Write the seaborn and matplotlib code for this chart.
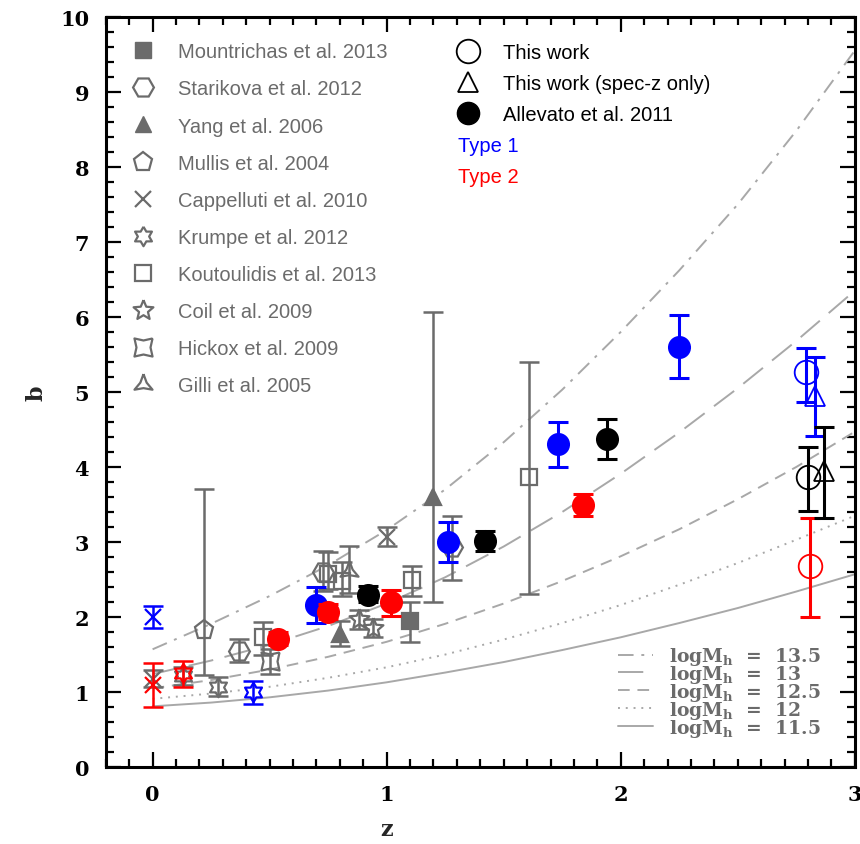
import numpy as np
import matplotlib
matplotlib.use("Agg")
import matplotlib.pyplot as plt
import seaborn as sns
from matplotlib.lines import Line2D
from matplotlib.ticker import MultipleLocator

# --- model curves b(z) for several halo masses ---
z_model = [0.0, 0.25, 0.5, 0.75, 1.0, 1.25, 1.5, 1.75, 2.0, 2.25, 2.5, 2.75, 3.0]
b_135 = [1.57, 1.91, 2.28, 2.69, 3.16, 3.70, 4.33, 5.03, 5.80, 6.62, 7.50, 8.48, 9.55]
b_130 = [1.24, 1.42, 1.63, 1.88, 2.18, 2.53, 2.94, 3.40, 3.91, 4.46, 5.05, 5.68, 6.35]
b_125 = [1.05, 1.16, 1.30, 1.47, 1.67, 1.91, 2.18, 2.48, 2.81, 3.17, 3.57, 4.00, 4.47]
b_120 = [0.91, 0.98, 1.07, 1.19, 1.33, 1.50, 1.70, 1.92, 2.16, 2.43, 2.72, 3.03, 3.35]
b_115 = [0.81, 0.86, 0.93, 1.02, 1.13, 1.26, 1.40, 1.56, 1.73, 1.92, 2.12, 2.34, 2.57]
model_labels = ["13.5", "13", "12.5", "12", "11.5"]

# --- this work (open circles): blue = type 1, black = all, red = type 2 ---
tw_z = [2.79, 2.80, 2.81]
tw_b = [5.26, 3.87, 2.68]
tw_lo = [0.39, 0.46, 0.68]
tw_hi = [0.33, 0.40, 0.64]
# spec-z only (open triangles): blue, black
tws_z = [2.83, 2.87]
tws_b = [4.95, 3.95]
tws_lo = [0.54, 0.63]
tws_hi = [0.52, 0.58]

# --- Allevato et al. 2011 (filled circles) ---
al1_z = [0.70, 1.26, 1.73, 2.25]
al1_b = [2.16, 3.00, 4.31, 5.60]
al1_lo = [0.24, 0.27, 0.31, 0.41]
al1_hi = [0.24, 0.27, 0.29, 0.43]
al2_z = [0.535, 0.75, 1.02, 1.84]
al2_b = [1.71, 2.07, 2.20, 3.49]
al2_lo = [0.08, 0.10, 0.19, 0.14]
al2_hi = [0.09, 0.10, 0.16, 0.15]
alall_z = [0.92, 1.42, 1.94]
alall_b = [2.30, 3.01, 4.37]
alall_lo = [0.10, 0.13, 0.26]
alall_hi = [0.11, 0.14, 0.27]

# --- literature (gray unless noted) ---
mou_z, mou_b, mou_lo, mou_hi = [1.10], [1.95], [0.28], [0.25]
sta_z, sta_b = [0.37, 0.73, 1.28], [1.55, 2.60, 2.93]
sta_lo, sta_hi = [0.15, 0.25, 0.43], [0.16, 0.28, 0.42]
yan_z, yan_b = [0.80, 1.20], [1.78, 3.60]
yan_lo, yan_hi = [0.17, 1.40], [0.17, 2.47]
mul_z, mul_b, mul_lo, mul_hi = [0.22], [1.83], [0.60], [1.87]
cap_z, cap_b, cap_lo, cap_hi = [0.0, 1.0], [1.17, 3.07], [0.10, 0.13], [0.12, 0.13]
cap1_z, cap1_b, cap1_lo, cap1_hi = [0.0], [2.00], [0.15], [0.15]
cap2_z, cap2_b, cap2_lo, cap2_hi = [0.0], [1.10], [0.30], [0.29]
kru_z, kru_b, kru_lo, kru_hi = [0.13, 0.28], [1.22, 1.07], [0.12, 0.12], [0.12, 0.13]
kru1_z, kru1_b, kru1_lo, kru1_hi = [0.43], [1.00], [0.16], [0.15]
kru2_z, kru2_b, kru2_lo, kru2_hi = [0.13], [1.25], [0.18], [0.16]
kou_z = [0.47, 0.75, 0.81, 1.11, 1.61]
kou_b = [1.73, 2.57, 2.48, 2.50, 3.87]
kou_lo = [0.23, 0.20, 0.20, 0.22, 1.56]
kou_hi = [0.20, 0.30, 0.25, 0.18, 1.53]
coi_z, coi_b, coi_lo, coi_hi = [0.88, 0.94], [1.97, 1.86], [0.13, 0.12], [0.13, 0.12]
hic_z, hic_b, hic_lo, hic_hi = [0.50], [1.42], [0.18], [0.15]
gil_z, gil_b, gil_lo, gil_hi = [0.84], [2.62], [0.30], [0.32]

lit_labels = ["Mountrichas et al. 2013", "Starikova et al. 2012", "Yang et al. 2006",
              "Mullis et al. 2004", "Cappelluti et al. 2010", "Krumpe et al. 2012",
              "Koutoulidis et al. 2013", "Coil et al. 2009", "Hickox et al. 2009",
              "Gilli et al. 2005"]

GRAY = "#6b6b6b"
CURVE = "#a8a8a8"
BLUE = "#0000ff"
RED = "#ff0000"

sns.set_theme(style="ticks")
plt.rcParams["font.family"] = ["DejaVu Serif"]
plt.rcParams["mathtext.default"] = "regular"

fig, ax = plt.subplots(figsize=(8.6, 8.45), dpi=100)
fig.subplots_adjust(left=0.123, right=0.994, bottom=0.091, top=0.979)

# model curves
styles = [(0, (8, 4, 1.5, 4)), (0, (13, 6)), (0, (6, 4)), (0, (1, 3)), "-"]
for bvals, ls in zip([b_135, b_130, b_125, b_120, b_115], styles):
    sns.lineplot(x=z_model, y=bvals, ax=ax, color=CURVE, lw=1.4, linestyle=ls,
                 legend=False, zorder=1)


def star(n, inner, rot=90):
    # closed outline of an n-pointed star used as marker shape
    k = np.arange(2 * n + 1)
    ang = np.deg2rad(rot) + k * np.pi / n
    r = np.where(k % 2 == 0, 1.0, inner)
    return list(zip(r * np.cos(ang), r * np.sin(ang)))


star6 = star(6, 0.58)
star5 = star(5, 0.45)
star4 = star(4, 0.55, rot=45)
star3 = star(3, 0.35)


def eb(z, b, lo, hi, marker, color, ms=12, filled=False, mew=1.6, zorder=3, lw=1.8):
    ax.errorbar(z, b, yerr=[lo, hi], fmt="none", ecolor=color,
                elinewidth=lw, capsize=7.5, capthick=lw, zorder=zorder)
    ax.plot(z, b, ls="none", marker=marker, color=color, ms=ms,
            mfc=color if filled else "none", mec=color, mew=mew, zorder=zorder)


# literature
eb(mul_z, mul_b, mul_lo, mul_hi, "p", GRAY, ms=14)
eb(sta_z, sta_b, sta_lo, sta_hi, "H", GRAY, ms=15)
eb(kou_z, kou_b, kou_lo, kou_hi, "s", GRAY, ms=11)
eb(yan_z, yan_b, yan_lo, yan_hi, "^", GRAY, ms=12, filled=True)
eb(mou_z, mou_b, mou_lo, mou_hi, "s", GRAY, ms=12, filled=True)
eb(cap_z, cap_b, cap_lo, cap_hi, "x", GRAY, ms=11)
eb(cap1_z, cap1_b, cap1_lo, cap1_hi, "x", BLUE, ms=11)
eb(cap2_z, cap2_b, cap2_lo, cap2_hi, "x", RED, ms=11)
eb(kru_z, kru_b, kru_lo, kru_hi, star6, GRAY, ms=14)
eb(kru1_z, kru1_b, kru1_lo, kru1_hi, star6, BLUE, ms=14)
eb(kru2_z, kru2_b, kru2_lo, kru2_hi, star6, RED, ms=14)
eb(coi_z, coi_b, coi_lo, coi_hi, star5, GRAY, ms=15)
eb(hic_z, hic_b, hic_lo, hic_hi, star4, GRAY, ms=13)
eb(gil_z, gil_b, gil_lo, gil_hi, star3, GRAY, ms=15)

# Allevato et al. 2011
eb(al1_z, al1_b, al1_lo, al1_hi, "o", BLUE, ms=15, filled=True, zorder=5, lw=2.2)
eb(al2_z, al2_b, al2_lo, al2_hi, "o", RED, ms=15, filled=True, zorder=5, lw=2.2)
eb(alall_z, alall_b, alall_lo, alall_hi, "o", "black", ms=15, filled=True, zorder=5, lw=2.2)

# this work
for i, c in enumerate([BLUE, "black", RED]):
    eb([tw_z[i]], [tw_b[i]], [tw_lo[i]], [tw_hi[i]], "o", c, ms=17, mew=1.3, zorder=6, lw=2.2)
for i, c in enumerate([BLUE, "black"]):
    eb([tws_z[i]], [tws_b[i]], [tws_lo[i]], [tws_hi[i]], "^", c, ms=14, mew=1.3, zorder=6, lw=2.2)

# axes
ax.set_xlim(-0.2, 3.0)
ax.set_ylim(0, 10)
ax.xaxis.set_major_locator(MultipleLocator(1))
ax.xaxis.set_minor_locator(MultipleLocator(0.1))
ax.yaxis.set_major_locator(MultipleLocator(1))
ax.yaxis.set_minor_locator(MultipleLocator(0.2))
ax.tick_params(which="both", direction="in", top=True, right=True, width=1.6,
               colors="black", labelsize=15, pad=12)
ax.tick_params(which="major", length=11)
ax.tick_params(which="minor", length=6)
for lab in ax.get_xticklabels() + ax.get_yticklabels():
    lab.set_fontweight("bold")
for sp in ax.spines.values():
    sp.set_linewidth(2.2)
    sp.set_color("black")
ax.set_xlabel("z", fontsize=16, fontweight="bold")
ax.set_ylabel("b", fontsize=16, fontweight="bold")
ax.xaxis.set_label_coords(0.375, -0.068)
ax.yaxis.set_label_coords(-0.078, 0.5)

LEGFONT = {"family": "Liberation Sans", "size": 14.5}

# legend: literature
lit_handles = [
    Line2D([], [], ls="none", marker="s", color=GRAY, mfc=GRAY, ms=12),
    Line2D([], [], ls="none", marker="H", color=GRAY, mfc="none", mew=1.6, ms=15),
    Line2D([], [], ls="none", marker="^", color=GRAY, mfc=GRAY, ms=12),
    Line2D([], [], ls="none", marker="p", color=GRAY, mfc="none", mew=1.6, ms=14),
    Line2D([], [], ls="none", marker="x", color=GRAY, mew=1.6, ms=11),
    Line2D([], [], ls="none", marker=star6, color=GRAY, mfc="none", mew=1.6, ms=14),
    Line2D([], [], ls="none", marker="s", color=GRAY, mfc="none", mew=1.6, ms=11),
    Line2D([], [], ls="none", marker=star5, color=GRAY, mfc="none", mew=1.6, ms=15),
    Line2D([], [], ls="none", marker=star4, color=GRAY, mfc="none", mew=1.6, ms=13),
    Line2D([], [], ls="none", marker=star3, color=GRAY, mfc="none", mew=1.6, ms=15),
]
leg1 = ax.legend(lit_handles, lit_labels, loc="upper left", bbox_to_anchor=(0.032, 0.966),
                 frameon=False, prop=LEGFONT, labelcolor=GRAY, labelspacing=0.9,
                 handletextpad=1.1, handlelength=1.3, borderpad=0, borderaxespad=0)
ax.add_artist(leg1)

# legend: this work / Allevato
tw_handles = [
    Line2D([], [], ls="none", marker="o", color="black", mfc="none", mew=1.3, ms=17),
    Line2D([], [], ls="none", marker="^", color="black", mfc="none", mew=1.3, ms=14),
    Line2D([], [], ls="none", marker="o", color="black", mfc="black", ms=16),
]
leg2 = ax.legend(tw_handles, ["This work", "This work (spec-z only)", "Allevato et al. 2011"],
                 loc="upper left", bbox_to_anchor=(0.466, 0.965), frameon=False,
                 prop=LEGFONT, labelcolor="black", labelspacing=0.6,
                 handletextpad=1.1, handlelength=1.3, borderpad=0, borderaxespad=0)
ax.add_artist(leg2)
ax.text(0.470, 0.828, "Type 1", color=BLUE, transform=ax.transAxes, va="center", **LEGFONT)
ax.text(0.470, 0.787, "Type 2", color=RED, transform=ax.transAxes, va="center", **LEGFONT)

# legend: model curves
mod_handles = [Line2D([], [], color=CURVE, lw=1.4, ls=ls) for ls in styles]
mod_labels = ["logM$_h$  =  " + v for v in model_labels]
leg3 = ax.legend(mod_handles, mod_labels, loc="lower right", bbox_to_anchor=(0.955, 0.038),
                 frameon=False, prop={"family": "DejaVu Serif", "weight": "bold", "size": 13.5},
                 labelcolor=GRAY, labelspacing=-0.22, handletextpad=0.85, handlelength=1.9,
                 borderpad=0, borderaxespad=0)

fig.savefig("out.png", dpi=100)
